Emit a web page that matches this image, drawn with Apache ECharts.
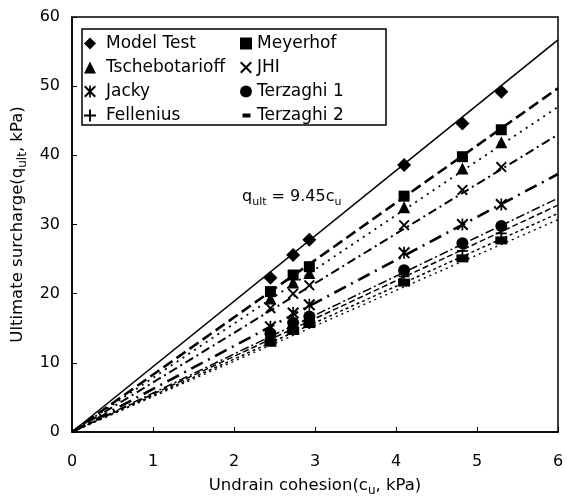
<!DOCTYPE html>
<html><head><meta charset="utf-8">
<script src="https://cdn.jsdelivr.net/npm/echarts@6/dist/echarts.min.js"></script>
<style>html,body{margin:0;padding:0;background:#fff}#c{width:567px;height:497px}</style>
</head><body><div id="c"></div>
<script>
// ---- data ----
const cu = [2.45, 2.73, 2.93, 4.1, 4.82, 5.3];
const modelTest      = [22.3, 25.6, 27.8, 38.6, 44.6, 49.2];
const meyerhof       = [20.3, 22.7, 23.9, 34.1, 39.8, 43.7];
const tschebotarioff = [19.3, 21.6, 23.0, 32.5, 38.1, 41.9];
const jhi            = [17.9, 20.0, 21.2, 29.9, 35.0, 38.3];
const jacky          = [15.2, 17.2, 18.4, 25.9, 30.0, 32.9];
const terzaghi1      = [14.2, 15.8, 16.7, 23.4, 27.3, 29.8];
const fellenius      = [13.6, 15.2, 16.2, 22.5, 26.2, 28.7];
const terzaghi2      = [12.9, 14.6, 15.6, 21.6, 25.1, 27.7];
// straight fitted lines through origin: value at cu = 6
const fitX = [0, 6];
const fitNames = ['Model Test', 'Meyerhof', 'Tschebotarioff', 'JHI', 'Jacky', 'Terzaghi 1', 'Fellenius', 'Terzaghi 2', 'Other'];
const fitStart = [0, 0, 0, 0, 0, 0, 0, 0, 0];
const fitEnd   = [56.7, 49.7, 47.0, 43.0, 37.3, 33.8, 32.8, 31.6, 30.7];
const xTicks = [0, 1, 2, 3, 4, 5, 6];
const yTicks = [0, 10, 20, 30, 40, 50, 60];

// ---- styling ----
const F = 'DejaVu Sans';
const SYM_X = 'path://M0,1.2 L1.2,0 L10,8.8 L8.8,10 Z M8.8,0 L10,1.2 L1.2,10 L0,8.8 Z';
const SYM_AST = 'path://M0,1.2 L1.2,0 L10,8.8 L8.8,10 Z M8.8,0 L10,1.2 L1.2,10 L0,8.8 Z M4.3,0 L5.7,0 L5.7,10 L4.3,10 Z';
const SYM_PLUS = 'path://M4.2,0 L5.8,0 L5.8,10 L4.2,10 Z M0,4.2 L10,4.2 L10,5.8 L0,5.8 Z';

const pts = [
  {name: 'Model Test', d: modelTest, symbol: 'diamond', size: 14},
  {name: 'Meyerhof', d: meyerhof, symbol: 'rect', size: 11},
  {name: 'Tschebotarioff', d: tschebotarioff, symbol: 'triangle', size: 12},
  {name: 'JHI', d: jhi, symbol: SYM_X, size: 11},
  {name: 'Jacky', d: jacky, symbol: SYM_AST, size: 12},
  {name: 'Terzaghi 1', d: terzaghi1, symbol: 'circle', size: 12},
  {name: 'Fellenius', d: fellenius, symbol: SYM_PLUS, size: 11},
  {name: 'Terzaghi 2', d: terzaghi2, symbol: 'rect', size: [12, 8]}
];
const lineTypes = [
  {type: 'solid', width: 1.6},
  {type: [11, 5], width: 2.6},
  {type: [2, 5], width: 1.8},
  {type: [9, 4, 2, 4], width: 2},
  {type: [13, 6, 2, 6], width: 2.6},
  {type: [9, 3, 2, 3], width: 1.5},
  {type: [6, 3], width: 1.5},
  {type: [3, 3], width: 1.5},
  {type: [2, 4], width: 1.4}
];

const series = [];
fitNames.forEach((n, i) => {
  series.push({
    type: 'line', name: 'fit_' + n, silent: true, symbol: 'none', z: 1,
    data: [[fitX[0], fitStart[i]], [fitX[1], fitEnd[i]]],
    lineStyle: {color: '#000', width: lineTypes[i].width, type: lineTypes[i].type}
  });
});
pts.forEach(p => {
  series.push({
    type: 'scatter', name: p.name, symbol: p.symbol, symbolSize: p.size, z: 3,
    data: cu.map((x, j) => [x, p.d[j]]),
    itemStyle: {color: '#000', opacity: 1}
  });
});

const legendText = {fontFamily: F, fontSize: 17, color: '#000', lineHeight: 16};
const chart = echarts.init(document.getElementById('c'));
chart.setOption({
  animation: false,
  backgroundColor: '#fff',
  grid: {left: 72, right: 9, top: 17, bottom: 65, outerBoundsMode: 'none', containLabel: false,
         show: true, borderColor: '#000', borderWidth: 1.5, backgroundColor: 'transparent'},
  xAxis: {
    type: 'value', min: xTicks[0], max: xTicks[xTicks.length - 1], interval: 1,
    axisLine: {lineStyle: {color: '#000', width: 1.5}},
    axisTick: {inside: true, length: 5, lineStyle: {color: '#000'}},
    splitLine: {show: false},
    axisLabel: {margin: 22, fontFamily: F, fontSize: 16, color: '#000'},
    name: '{b|Undrain cohesion(c}{s|u}{b|, kPa)}',
    nameLocation: 'middle', nameGap: 45,
    nameTextStyle: {color: '#000', rich: {
      b: {fontFamily: F, fontSize: 16.5, color: '#000', verticalAlign: 'bottom', padding: [0, 0, 3, 0]},
      s: {fontFamily: F, fontSize: 12, color: '#000', verticalAlign: 'bottom'}
    }}
  },
  yAxis: {
    type: 'value', min: yTicks[0], max: yTicks[yTicks.length - 1], interval: 10,
    axisLine: {lineStyle: {color: '#000', width: 1.5}},
    axisTick: {inside: true, length: 5, lineStyle: {color: '#000'}},
    splitLine: {show: false},
    axisLabel: {margin: 12, fontFamily: F, fontSize: 16, color: '#000'},
    name: '{b|Ultimate surcharge(q}{s|ult}{b|, kPa)}',
    nameLocation: 'middle', nameGap: 38,
    nameTextStyle: {color: '#000', rich: {
      b: {fontFamily: F, fontSize: 16.5, color: '#000', verticalAlign: 'bottom', padding: [0, 0, 3, 0]},
      s: {fontFamily: F, fontSize: 12, color: '#000', verticalAlign: 'bottom'}
    }}
  },
  legend: [
    {left: 79, top: 30, padding: 5, orient: 'vertical', selectedMode: false, itemWidth: 12, itemHeight: 12, itemGap: 7,
     textStyle: Object.assign({padding: [0, 0, 0, 5]}, legendText),
     data: ['Model Test', 'Tschebotarioff', 'Jacky', 'Fellenius']},
    {left: 235, top: 30, padding: 5, orient: 'vertical', selectedMode: false, itemWidth: 12, itemHeight: 12, itemGap: 7,
     textStyle: legendText,
     data: ['Meyerhof', 'JHI', 'Terzaghi 1', {name: 'Terzaghi 2', icon: 'path://M0,0 L0,0 M1,4 L9,4 L9,8 L1,8 Z M0,12 L0,12'}]}
  ],
  graphic: [
    {type: 'rect', z: 3, shape: {x: 82, y: 29, width: 304, height: 96},
     style: {fill: '#fff', stroke: '#000', lineWidth: 1.5}},
    {type: 'text', z: 5, left: 242, top: 189,
     style: {
       text: '{b|q}{s|ult}{b| = 9.45c}{s|u}',
       rich: {
         b: {fontFamily: F, fontSize: 16, fill: '#000', verticalAlign: 'bottom', padding: [0, 0, 3, 0]},
         s: {fontFamily: F, fontSize: 11, fill: '#000', verticalAlign: 'bottom'}
       }
     }}
  ],
  series: series
});
</script></body></html>
